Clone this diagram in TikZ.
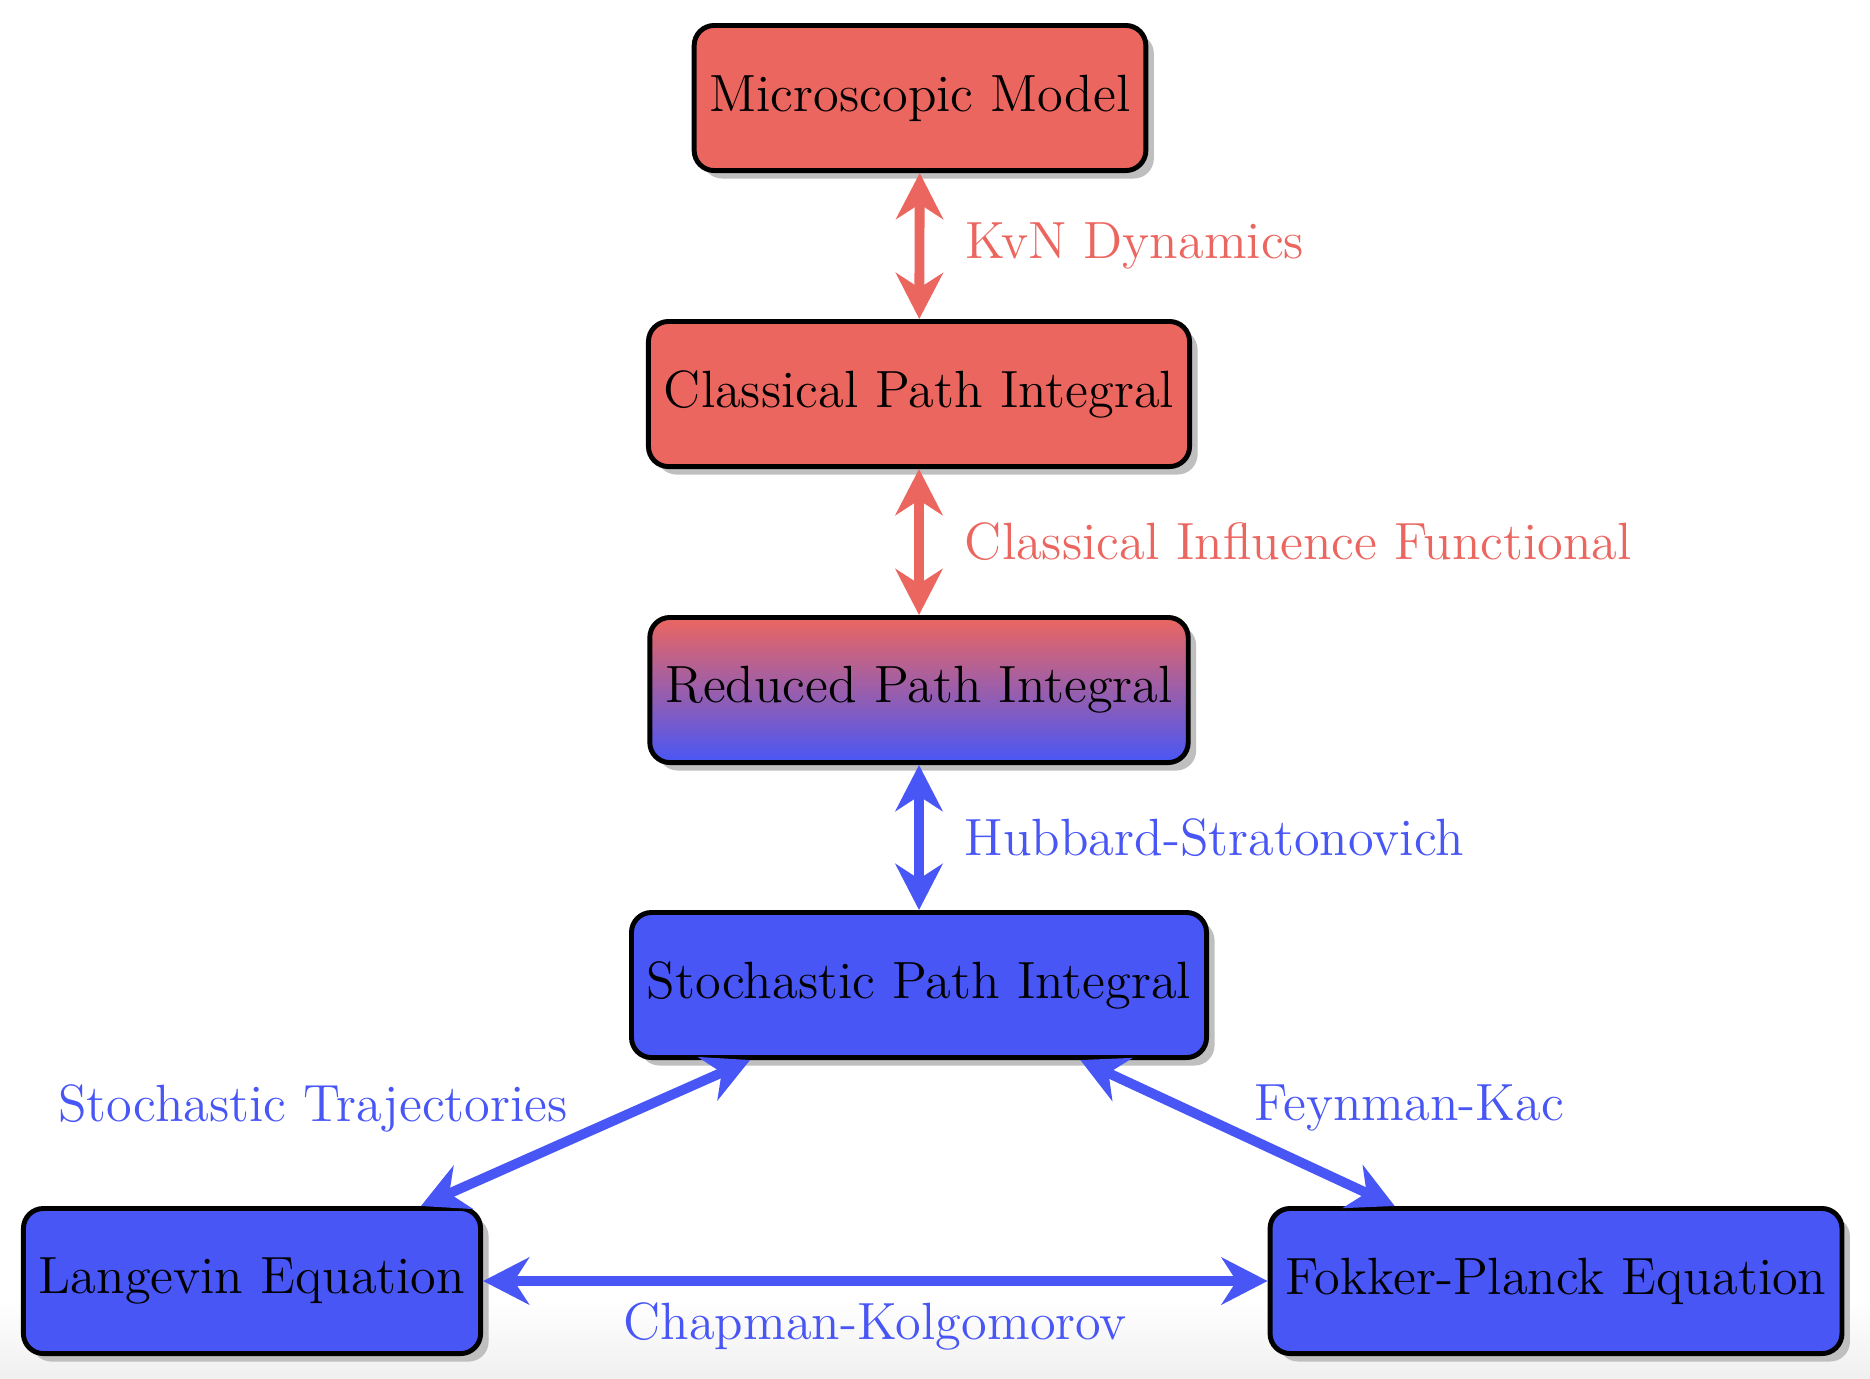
\documentclass[tikz,border=0pt]{standalone}
\usetikzlibrary{shadows,arrows.meta,calc}
\definecolor{cred}{RGB}{236,102,96}
\definecolor{cblue}{RGB}{72,86,246}
\newcommand{\bigfont}{\fontsize{14.9}{18}\selectfont}
\begin{document}
\begin{tikzpicture}[x=0.01cm,y=-0.01cm,
  box/.style={draw=black, line width=1.4pt, rounded corners=2mm, minimum height=1.45cm,
    inner xsep=0.155cm, font=\bigfont,
    drop shadow={shadow xshift=0.8mm, shadow yshift=-0.8mm, fill=black!25, opacity=1}},
  redbox/.style={box, fill=cred},
  bluebox/.style={box, fill=cblue},
  mixbox/.style={box, top color=cred, bottom color=cblue},
  link/.style={line width=2.8pt,
    {Stealth[length=4.6mm,width=4.7mm,inset=1.5mm]}-{Stealth[length=4.6mm,width=4.7mm,inset=1.5mm]}},
  lbl/.style={font=\bigfont, inner sep=0pt}]
\useasboundingbox (0,0) rectangle (1870,1378);
\fill[top color=white, bottom color=black!6, draw=none] (0,1300) rectangle (1870,1378);

\node[redbox] (micro) at (920,98) {Microscopic Model};
\node[redbox] (classical) at (919,394) {Classical Path Integral};
\node[mixbox] (reduced) at (919,690) {Reduced Path Integral};
\node[bluebox] (stoch) at (919,985) {Stochastic Path Integral};
\node[bluebox] (lang) at (252,1281) {Langevin Equation};
\node[bluebox] (fokker) at (1556,1281) {Fokker-Planck Equation};

\draw[link, cred] (micro) -- (classical)
  node[lbl, midway, anchor=west, xshift=0.41cm, text=cred] (kvn) {KvN Dynamics};
\draw[link, cred] (classical) -- (reduced)
  node[lbl, midway, anchor=west, xshift=0.41cm, text=cred] (cif) {Classical Influence Functional};
\draw[link, cblue] (reduced) -- (stoch)
  node[lbl, midway, anchor=west, xshift=0.41cm, text=cblue] (hs) {Hubbard-Stratonovich};
\draw[link, cblue] (stoch) -- (lang);
\draw[link, cblue] (stoch) -- (fokker);
\draw[link, cblue] (lang) -- (fokker)
  node[lbl, midway, anchor=north, yshift=-0.17cm, text=cblue] (ck) {Chapman-Kolgomorov};
\node[lbl, text=cblue] (st) at (313,1108) {Stochastic Trajectories};
\node[lbl, text=cblue] (fk) at (1409,1108) {Feynman-Kac};
\end{tikzpicture}
\end{document}
